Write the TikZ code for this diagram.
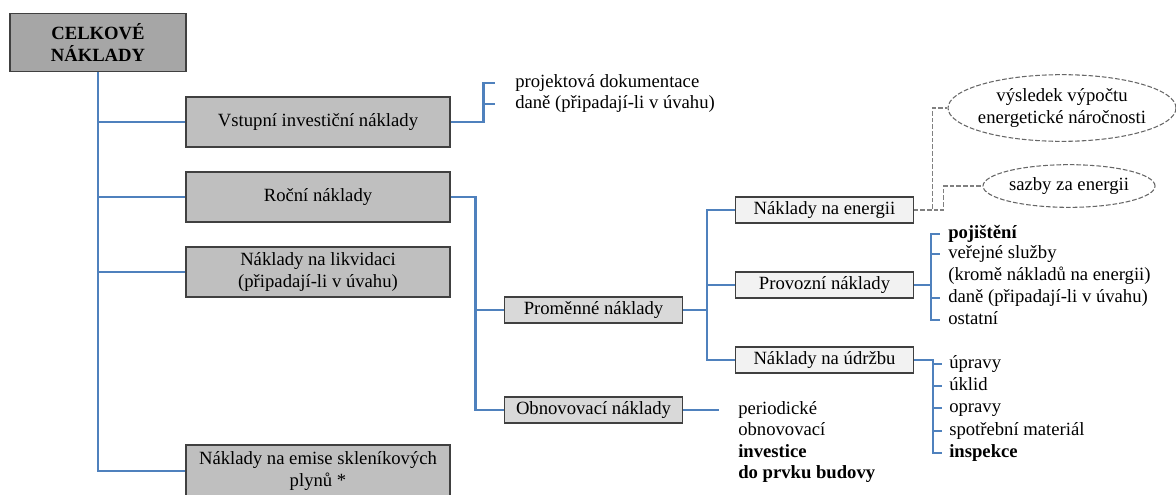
\documentclass[tikz,border=0pt]{standalone}
\usepackage{fontspec}
\setmainfont{Liberation Serif}
\usetikzlibrary{shapes.geometric,calc}
\definecolor{linkblue}{HTML}{4F81BD}
\definecolor{boxedge}{HTML}{404040}
\tikzset{
  box/.style={draw=boxedge,line width=0.9pt,align=center,inner sep=1pt,font=\fontsize{14}{16.5}\selectfont},
  rootbox/.style={box,fill=black!35,minimum width=132pt,minimum height=44pt,font=\fontsize{14}{16}\selectfont\bfseries},
  mainbox/.style={box,fill=black!25,minimum width=198pt,minimum height=37.5pt},
  subbox/.style={box,fill=black!15,minimum width=133pt,minimum height=19.5pt},
  leafbox/.style={box,fill=black!5,minimum width=133pt,minimum height=19.5pt},
  note/.style={ellipse,draw=black!60,dash pattern=on 3.5pt off 1.5pt,line width=0.8pt},
  notetext/.style={align=center,inner sep=0pt,font=\fontsize{14}{16.5}\selectfont},
  item/.style={anchor=west,inner sep=0pt,text height=10pt,text depth=3pt,font=\fontsize{14}{16.5}\selectfont},
  link/.style={draw=linkblue,line width=1.8pt},
  dashlink/.style={draw=black!50,dash pattern=on 3.5pt off 1.5pt,line width=1pt}
}
\begin{document}
\begin{tikzpicture}[x=0.75pt,y=-0.75pt]
  \useasboundingbox (0,0) rectangle (1176,494);
  \node [rootbox] (total) at (98,42.5) {CELKOVÉ\\NÁKLADY};
  \node [mainbox] (initial) at (318,122) {Vstupní investiční náklady};
  \node [mainbox] (annual) at (318,197) {Roční náklady};
  \node [mainbox] (disposal) at (318,272) {Náklady na likvidaci\\(připadají-li v úvahu)};
  \node [mainbox,minimum height=39pt] (emission) at (318,471) {Náklady na emise skleníkových\\plynů *};
  \node [subbox] (variable) at (593.5,310) {Proměnné náklady};
  \node [subbox] (renewal) at (593.5,410) {Obnovovací náklady};
  \node [leafbox] (energy) at (824.5,210) {Náklady na energii};
  \node [leafbox] (operation) at (824.5,285) {Provozní náklady};
  \node [leafbox] (upkeep) at (824.5,360) {Náklady na údržbu};
  \node [note,minimum width=171pt,minimum height=50pt] (result) at (1062,108) {};
  \node [notetext] (resulttext) at (result) {výsledek výpočtu\\energetické náročnosti};
  \node [note,minimum width=129pt,minimum height=32pt] (tariff) at (1069,186) {};
  \node [notetext] (tarifftext) at (tariff) {sazby za energii};
  \node [item] (project) at (515,83) {projektová dokumentace};
  \node [item] (taxa) at (515,104) {daně (připadají-li v úvahu)};
  \node [item] (insur) at (948,234) {\textbf{pojištění}};
  \node [item] (utility) at (948,254) {veřejné služby};
  \node [item] (except) at (948,276) {(kromě nákladů na energii)};
  \node [item] (taxb) at (948,298) {daně (připadají-li v úvahu)};
  \node [item] (other) at (948,320) {ostatní};
  \node [item] (adjust) at (949,364) {úpravy};
  \node [item] (clean) at (949,386) {úklid};
  \node [item] (repair) at (949,408) {opravy};
  \node [item] (supply) at (949,431) {spotřební materiál};
  \node [item] (inspect) at (949,453) {\textbf{inspekce}};
  \node [anchor=west,align=left,inner sep=0pt,font=\fontsize{14}{16.2}\selectfont] (renewtext) at (738,442) {periodické\\obnovovací\\\textbf{investice}\\\textbf{do prvku budovy}};
  \coordinate (renewend) at ($(renewal.east)+(36,0)$);
  \draw [link] (total.south) |- (initial.west);
  \draw [link] (total.south) |- (annual.west);
  \draw [link] (total.south) |- (disposal.west);
  \draw [link] (total.south) |- (emission.west);
  \draw [link] (initial.east) -- ++(33,0) coordinate (ibus) |- ($(project.west)+(-20,0)$);
  \draw [link] (ibus) |- ($(taxa.west)+(-20,0)$);
  \draw [link] (annual.east) -- ++(25,0) coordinate (abus) |- (variable.west);
  \draw [link] (abus) |- (renewal.west);
  \draw [link] (variable.east) -- ++(24,0) coordinate (vbus) |- (energy.west);
  \draw [link] (vbus) |- (operation.west);
  \draw [link] (vbus) |- (upkeep.west);
  \draw [link] (renewal.east) -- (renewend);
  \draw [link] (operation.east) -- ++(17,0) coordinate (obus) |- ($(insur.west)+(-8,0)$);
  \draw [link] (obus) |- ($(utility.west)+(-8,0)$);
  \draw [link] (obus) |- ($(taxb.west)+(-8,0)$);
  \draw [link] (obus) |- ($(other.west)+(-8,0)$);
  \draw [link] (upkeep.east) -- ++(19,0) coordinate (ubus) |- ($(adjust.west)+(-7,0)$);
  \draw [link] (ubus) |- ($(clean.west)+(-7,0)$);
  \draw [link] (ubus) |- ($(repair.west)+(-7,0)$);
  \draw [link] (ubus) |- ($(supply.west)+(-7,0)$);
  \draw [link] (ubus) |- ($(inspect.west)+(-7,0)$);
  \draw [dashlink] (energy.east) -- ++(19,0) |- (result.west);
  \draw [dashlink] (energy.east) -- ++(30,0) |- (tariff.west);
\end{tikzpicture}
\end{document}
